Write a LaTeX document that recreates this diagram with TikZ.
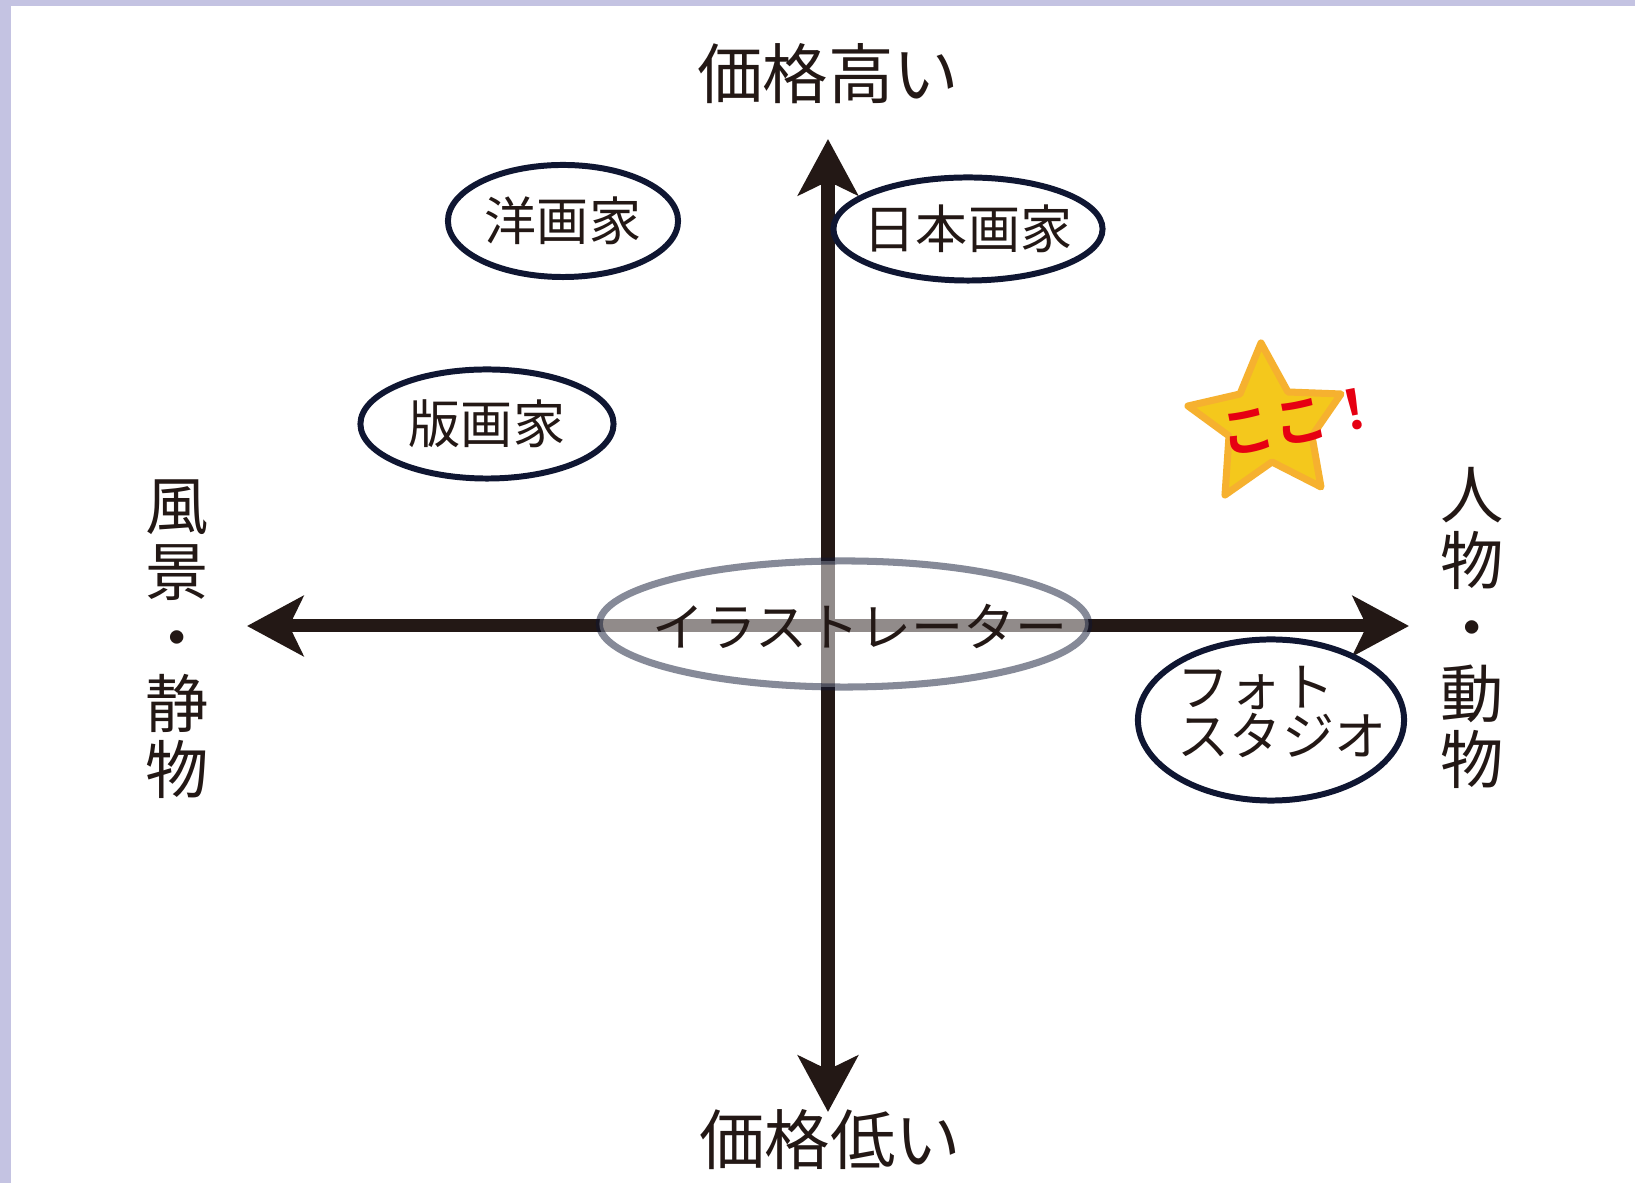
\documentclass[tikz,border=0pt]{standalone}
\usepackage{fontspec}
\newfontfamily\jpfont{Noto Sans CJK JP}
\newfontfamily\kokofont{Noto Sans CJK JP Bold}
\usepackage{tikz}
\usetikzlibrary{arrows.meta, shapes.geometric}
\definecolor{ink}{HTML}{231815}
\definecolor{navy}{HTML}{0F1632}
\definecolor{lavender}{HTML}{C4C3E2}
\definecolor{stargold}{HTML}{F4C81C}
\definecolor{starrim}{HTML}{F6B12F}
\definecolor{kokored}{HTML}{E60012}

\begin{document}
\begin{tikzpicture} [x=0.01cm, y=-0.01cm, % <- 1 unit = 1 pixel, y downwards
	text=ink,
	>={Stealth[length=16pt, width=17pt, inset=4pt]},
	axis/.style={line width=3.7pt, draw=ink, <->},
	oval/.style={ellipse, draw=navy, line width=1.7pt, inner sep=0pt},
	ovaltext/.style={font=\jpfont\fontsize{14.8pt}{14pt}\selectfont},
	axislabel/.style={font=\jpfont\fontsize{18.6pt}{19pt}\selectfont},
	sidelabel/.style={align=center, font=\jpfont\fontsize{18pt}{18.8pt}\selectfont}]
	
	% frame
	\fill[lavender] (0,0) rectangle (1635,1183);
	\fill[white] (11,6) rectangle (1635,1183);
	\useasboundingbox (0,0) rectangle (1635,1183);
	
	\coordinate (high) at (828,139);
	\coordinate (low) at (828,1112);
	\coordinate (still) at (247,626);
	\coordinate (figure) at (1409,626);
	\draw[axis] (low) -- (high);
	\draw[axis] (still) -- (figure);
	
	\node[oval, minimum width=2.30cm, minimum height=1.12cm] (western) at (563,221) {};
	\node[ovaltext] (westerntext) at (western) {洋画家};
	\node[oval, minimum width=2.69cm, minimum height=1.03cm] (nihonga) at (968,229) {};
	\node[ovaltext] (nihongatext) at (nihonga) {日本画家};
	\node[oval, minimum width=2.53cm, minimum height=1.09cm] (print) at (487,424) {};
	\node[ovaltext] (printtext) at (print) {版画家};
	\node[oval, minimum width=2.66cm, minimum height=1.61cm] (studio) at (1271,720) {};
	\node[ovaltext, align=left] (studiotext) at (1282,712) {フォト\\スタジオ};
	
	\node[oval, line width=2pt, draw opacity=0.5, fill=white, fill opacity=0.5,
	minimum width=4.89cm, minimum height=1.26cm] (illust) at (844,624) {};
	\node[ovaltext] (illusttext) at (860,626) {イラストレーター};
	
	% star
	\draw[fill=stargold, draw=starrim, line width=2pt, line join=round]
	(1261,343) -- (1288,392) -- (1341,394) -- (1312,436) -- (1321,487)
	-- (1272,462) -- (1225,495) -- (1229,436) -- (1188,406) -- (1240,394) -- cycle;
	\node[rotate=11, text=kokored, font=\kokofont\fontsize{15.5pt}{15.5pt}\selectfont] (koko) at (1301,421) {ここ！};
	
	\node[axislabel] (pricehigh) at (828,74) {価格高い};
	\node[axislabel] (pricelow) at (830,1140) {価格低い};
	\node[sidelabel] (scenery) at (177,639) {風\\景\\・\\静\\物};
	\node[sidelabel] (people) at (1472,628) {人\\物\\・\\動\\物};
	
\end{tikzpicture}
\end{document}
